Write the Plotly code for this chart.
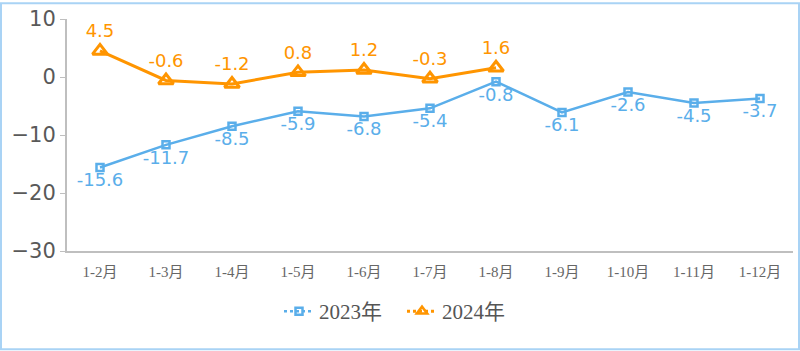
import plotly.graph_objects as go

categories = ["1-2月", "1-3月", "1-4月", "1-5月", "1-6月", "1-7月", "1-8月", "1-9月", "1-10月", "1-11月", "1-12月"]
values_2023 = [-15.6, -11.7, -8.5, -5.9, -6.8, -5.4, -0.8, -6.1, -2.6, -4.5, -3.7]
values_2024 = [4.5, -0.6, -1.2, 0.8, 1.2, -0.3, 1.6]
y_ticks = [10, 0, -10, -20, -30]

blue = "#5AAEEA"
orange = "#FF9500"
label_font = "DejaVu Sans, Verdana, sans-serif"
serif = "Liberation Serif, Noto Sans CJK SC, serif"

fig = go.Figure()
fig.add_trace(go.Scatter(
    x=categories, y=values_2023, name="2023年", mode="lines+markers+text", showlegend=False,
    line=dict(color=blue, width=2.5),
    marker=dict(symbol="square-open", size=7, color=blue, line=dict(width=2.5)),
    text=[f"{v}" for v in values_2023], textposition="bottom center",
    textfont=dict(color=blue, size=18, family=label_font),
))
fig.add_trace(go.Scatter(
    x=categories[:len(values_2024)], y=values_2024, name="2024年", mode="lines+markers+text", showlegend=False,
    line=dict(color=orange, width=3),
    marker=dict(symbol="triangle-up-open", size=13, color=orange, line=dict(width=3)),
    text=[f"{v}" for v in values_2024], textposition="top center",
    textfont=dict(color=orange, size=18, family=label_font),
))
# legend-only entries with smaller symbols
fig.add_trace(go.Scatter(x=[None], y=[None], name="2023年", mode="lines+markers",
                         line=dict(color=blue, width=2.5, dash="dot"),
                         marker=dict(symbol="square-open", size=7, color=blue, line=dict(width=2.5))))
fig.add_trace(go.Scatter(x=[None], y=[None], name="2024年", mode="lines+markers",
                         line=dict(color=orange, width=3, dash="dot"),
                         marker=dict(symbol="triangle-up-open", size=9, color=orange, line=dict(width=2.5))))

L, R, T, B = 67, 7, 17, 100
W, H = 800, 351
pw, ph = W - L - R, H - T - B

fig.update_layout(
    width=W, height=H,
    margin=dict(l=L, r=R, t=T, b=B),
    plot_bgcolor="white", paper_bgcolor="white",
    showlegend=True,
    legend=dict(orientation="h", x=(402 - L) / pw, xanchor="center", y=-61 / ph, yanchor="middle",
                font=dict(family=serif, size=21, color="#555555"),
                itemwidth=30, entrywidth=78, entrywidthmode="pixels"),
    xaxis=dict(type="category", categoryorder="array", categoryarray=categories,
               range=[-0.5, len(categories) - 0.5],
               showline=True, linecolor="#BFBFBF", linewidth=2, showgrid=False,
               ticks="", tickfont=dict(family=serif, size=15, color="#666666"),
               ticklabelstandoff=6),
    yaxis=dict(range=[-30, 10], tickvals=y_ticks, showline=True, linecolor="#BFBFBF", linewidth=2,
               showgrid=False, zeroline=False, ticks="outside", ticklen=5, tickcolor="#BFBFBF",
               tickfont=dict(family=label_font, size=21, color="#595959")),
    shapes=[dict(type="rect", xref="paper", yref="paper",
                 x0=-(L - 1) / pw, x1=1 + (R - 1) / pw, y0=-(B - 1) / ph, y1=1 + (T - 1) / ph,
                 line=dict(color="#A9D3F5", width=2), layer="above")],
)

fig.write_html("out.html")
